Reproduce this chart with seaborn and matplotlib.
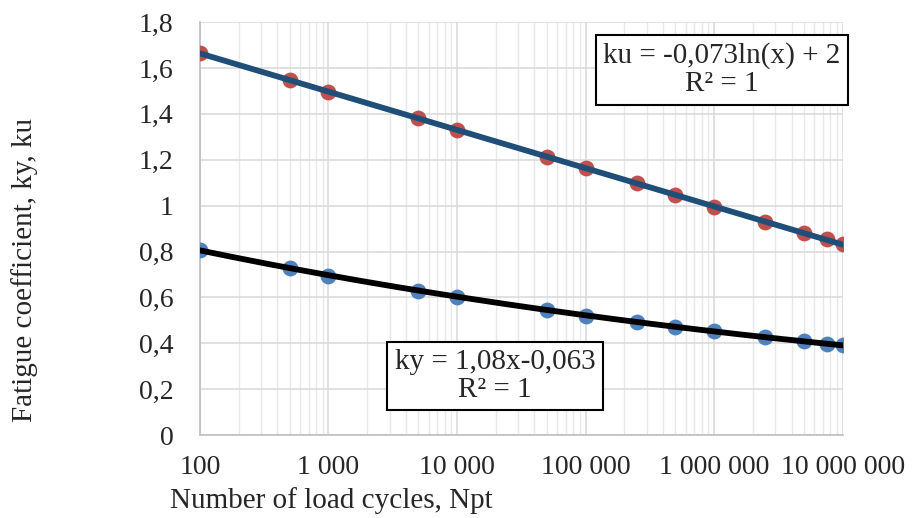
import numpy as np
import pandas as pd
import matplotlib
matplotlib.use("Agg")
import matplotlib.pyplot as plt
import matplotlib.ticker as mticker
import seaborn as sns

# Data
cycles = [100, 500, 1000, 5000, 10000, 50000, 100000, 250000, 500000,
          1000000, 2500000, 5000000, 7500000, 10000000]
ku = [1.666, 1.546, 1.495, 1.381, 1.330, 1.210, 1.165, 1.097, 1.046,
      0.994, 0.929, 0.881, 0.853, 0.831]
ky = [0.808, 0.727, 0.695, 0.630, 0.603, 0.545, 0.520, 0.494, 0.472,
      0.452, 0.427, 0.409, 0.398, 0.391]
y_ticks = [0, 0.2, 0.4, 0.6, 0.8, 1.0, 1.2, 1.4, 1.6, 1.8]
x_ticks = [100, 1000, 10000, 100000, 1000000, 10000000]

ku_label = "ku = -0,073ln(x) + 2\nR² = 1"
ky_label = "ky = 1,08x-0,063\nR² = 1"

df = pd.DataFrame({"cycles": cycles, "ku": ku, "ky": ky})

# Trend lines fitted like Excel does (log for ku, power for ky)
x = np.array(cycles, dtype=float)
a_ku, b_ku = np.polyfit(np.log(x), np.array(ku), 1)
a_ky, b_ky = np.polyfit(np.log(x), np.log(np.array(ky)), 1)
xs = np.logspace(np.log10(x.min()), np.log10(x.max()), 200)
trend = pd.DataFrame({
    "cycles": xs,
    "ku": a_ku * np.log(xs) + b_ku,
    "ky": np.exp(b_ky) * xs ** a_ky,
})

sns.set_style("white")
plt.rcParams["font.family"] = ["Liberation Serif", "DejaVu Serif"]

fig = plt.figure(figsize=(9.13, 5.18), dpi=100)
ax = fig.add_axes([0.219, 0.160, 0.704, 0.7975])

sns.scatterplot(data=df, x="cycles", y="ku", ax=ax, color="#C0504D",
                s=130, linewidth=0, zorder=3)
sns.scatterplot(data=df, x="cycles", y="ky", ax=ax, color="#4F81BD",
                s=130, linewidth=0, zorder=3)
sns.lineplot(data=trend, x="cycles", y="ku", ax=ax, color="#1F4E79",
             linewidth=4.2, zorder=4)
sns.lineplot(data=trend, x="cycles", y="ky", ax=ax, color="black",
             linewidth=4.2, zorder=4)

ax.set_xscale("log")
ax.set_xlim(100, 1e7)
ax.set_ylim(0, 1.8)
ax.set_xticks(x_ticks)
ax.set_yticks(y_ticks)
ax.xaxis.set_major_formatter(mticker.FuncFormatter(
    lambda v, p: f"{int(round(v)):,}".replace(",", " ")))
ax.yaxis.set_major_formatter(mticker.FuncFormatter(
    lambda v, p: f"{v:g}".replace(".", ",")))
ax.xaxis.set_minor_locator(mticker.LogLocator(base=10, subs=np.arange(2, 10)))

ax.grid(True, which="major", axis="both", color="#D9D9D9", linewidth=1.1)
ax.grid(True, which="minor", axis="x", color="#E8E8E8", linewidth=1.0)
ax.set_axisbelow(True)
for s in ["top", "right"]:
    ax.spines[s].set_visible(False)
for s in ["left", "bottom"]:
    ax.spines[s].set_color("#BFBFBF")
    ax.spines[s].set_linewidth(1.2)
ax.tick_params(axis="both", which="both", length=0, labelsize=20)
ax.tick_params(axis="y", pad=19)
ax.tick_params(axis="x", pad=14)

ax.set_xlabel("Number of load cycles, Npt", fontsize=21)
ax.set_ylabel("Fatigue coefficient, ky, ku", fontsize=21)
ax.xaxis.set_label_coords(0.204, -0.125)
ax.yaxis.set_label_coords(-0.252, 0.40)

box = dict(boxstyle="square,pad=0.25", facecolor="white",
           edgecolor="black", linewidth=1.5)
ax.text(0.812, 0.884, ku_label, transform=ax.transAxes, fontsize=21,
        ha="center", va="center", multialignment="center", linespacing=1.1,
        bbox=box, zorder=6)
ax.text(0.459, 0.143, ky_label, transform=ax.transAxes, fontsize=21,
        ha="center", va="center", multialignment="center", linespacing=1.1,
        bbox=box, zorder=6)

fig.savefig("out.png", dpi=100)
